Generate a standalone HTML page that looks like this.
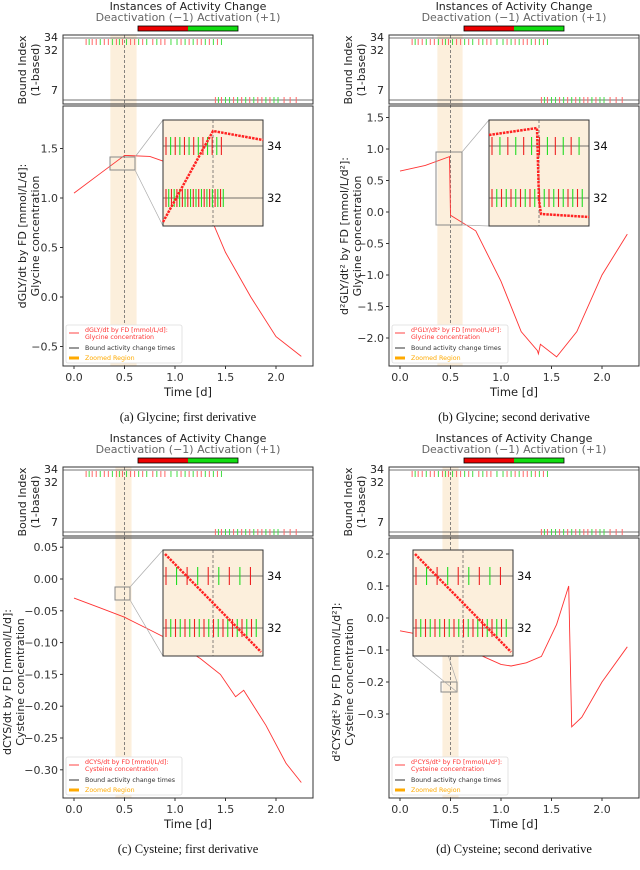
<!DOCTYPE html>
<html><head><meta charset="utf-8"><style>
body{margin:0;background:#fff;width:640px;height:865px;overflow:hidden}
svg{font-family:"DejaVu Sans","Liberation Sans",sans-serif}
.cap{font-family:"Liberation Serif",serif;font-size:12.5px}
</style></head><body>
<svg id="fig" width="640" height="865" viewBox="0 0 640 865"></svg>
<script>
// ---- data ----
const topEventTimes=[0.12,0.15,0.18,0.22,0.26,0.3,0.34,0.38,0.42,0.45,0.48,0.52,0.56,0.6,0.64,0.68,0.72,0.78,0.82,0.86,0.9,0.96,1.02,1.06,1.1,1.14,1.18,1.22,1.26,1.3,1.34,1.38,1.42,1.46];
const topEventSigns=[-1,1,-1,-1,1,-1,-1,1,-1,1,-1,1,-1,-1,1,-1,1,-1,1,-1,-1,1,1,-1,1,-1,1,-1,-1,1,-1,1,-1,1];
const botEventTimes=[1.4,1.43,1.46,1.5,1.54,1.58,1.62,1.66,1.7,1.74,1.78,1.82,1.86,1.9,1.94,1.98,2.02,2.08,2.14,2.2];
const botEventSigns=[-1,1,-1,1,1,-1,1,-1,1,-1,1,-1,-1,1,-1,1,1,-1,-1,-1];
const timeTicks=[0,0.5,1.0,1.5,2.0];
const tA=[0,0.25,0.5,0.75,1.0,1.25,1.5,1.75,2.0,2.25];
const vA=[1.05,1.24,1.43,1.42,1.33,1.05,0.45,0.0,-0.4,-0.6];
const tB=[0,0.25,0.49,0.5,0.75,1.0,1.2,1.36,1.37,1.39,1.55,1.75,2.0,2.25];
const vB=[0.65,0.74,0.88,-0.05,-0.3,-1.1,-1.9,-2.2,-2.25,-2.1,-2.3,-1.9,-1.0,-0.35];
const tC=[0,0.25,0.5,0.75,1.0,1.25,1.45,1.6,1.68,1.8,1.9,2.1,2.25];
const vC=[-0.03,-0.045,-0.06,-0.08,-0.10,-0.125,-0.15,-0.185,-0.175,-0.205,-0.23,-0.29,-0.32];
const tD=[0,0.25,0.5,0.75,1.0,1.1,1.25,1.4,1.55,1.67,1.7,1.8,2.0,2.25];
const vD=[-0.04,-0.055,-0.08,-0.11,-0.145,-0.15,-0.14,-0.12,-0.02,0.1,-0.34,-0.31,-0.2,-0.09];
const yTicksA=[-0.5,0.0,0.5,1.0,1.5], yLabA=["\u22120.5","0.0","0.5","1.0","1.5"];
const yTicksB=[-2.0,-1.5,-1.0,-0.5,0.0,0.5,1.0,1.5], yLabB=["\u22122.0","\u22121.5","\u22121.0","\u22120.5","0.0","0.5","1.0","1.5"];
const yTicksC=[-0.30,-0.25,-0.20,-0.15,-0.10,-0.05,0.00,0.05], yLabC=["\u22120.30","\u22120.25","\u22120.20","\u22120.15","\u22120.10","\u22120.05","0.00","0.05"];
const yTicksD=[-0.3,-0.2,-0.1,0.0,0.1,0.2], yLabD=["\u22120.3","\u22120.2","\u22120.1","0.0","0.1","0.2"];

const NS="http://www.w3.org/2000/svg";
const fig=document.getElementById('fig');
function el(tag,attrs,parent,txt){const e=document.createElementNS(NS,tag);for(const k in attrs)e.setAttribute(k,attrs[k]);if(txt!==undefined)e.textContent=txt;(parent||fig).appendChild(e);return e;}

function panel(p){
  const g=el('g',{transform:`translate(${p.dx},${p.dy})`});
  
  
  const L=63,R=313,T=106,B=366;
  const xs=t=>74+t*101;
  const ys=v=>p.y0-v*p.ys;
  // header
  let h=el('text',{x:188,y:10,'text-anchor':'middle','font-size':11,fill:'#222'},g,'Instances of Activity Change');
  
  el('text',{x:188,y:21,'text-anchor':'middle','font-size':11,fill:'#666'},g,'Deactivation (\u22121)   Activation (+1)');
  el('rect',{x:138,y:26,width:50,height:5,fill:'#e00'},g);
  el('rect',{x:188,y:26,width:50,height:5,fill:'#1d1'},g);
  el('rect',{x:138,y:26,width:100,height:5,fill:'none',stroke:'#000','stroke-width':0.8},g);
  // shade
  el('rect',{x:xs(p.sh[0]),y:35,width:xs(p.sh[1])-xs(p.sh[0]),height:B-35,fill:'#fcefdc'},g);
  el('line',{x1:xs(0.5),x2:xs(0.5),y1:35,y2:B,stroke:'#555','stroke-width':0.7,'stroke-dasharray':'3,2'},g);
  // strip
  const s=el('rect',{x:L,y:35,width:R-L,height:69,fill:'none',stroke:'#333','stroke-width':1},g);
  
  el('line',{x1:L,x2:R,y1:38,y2:38,stroke:'#444','stroke-width':0.8},g);
  el('line',{x1:L,x2:R,y1:100,y2:100,stroke:'#444','stroke-width':0.8},g);
  topEventTimes.forEach((t,i)=>{const m=el('line',{x1:xs(t),x2:xs(t),y1:39,y2:45,stroke:topEventSigns[i]<0?'#f66':'#4d4','stroke-width':1},g);
    });
  botEventTimes.forEach((t,i)=>{const m=el('line',{x1:xs(t),x2:xs(t),y1:97,y2:103,stroke:botEventSigns[i]<0?'#f66':'#4d4','stroke-width':1},g);
    });
  [['34',41],['32',54],['7',94]].forEach(a=>el('text',{x:58,y:a[1],'text-anchor':'end','font-size':11,fill:'#222'},g,a[0]));
  let bl=el('text',{transform:'translate(26,70) rotate(-90)','text-anchor':'middle','font-size':11,fill:'#222'},g,'Bound Index');
  
  el('text',{transform:'translate(39,70) rotate(-90)','text-anchor':'middle','font-size':11,fill:'#222'},g,'(1-based)');
  // main axes
  const ax=el('rect',{x:L,y:T,width:R-L,height:B-T,fill:'none',stroke:'#333','stroke-width':1},g);
  
  p.yt.forEach((v,i)=>{const y=ys(v);el('line',{x1:L-3,x2:L,y1:y,y2:y,stroke:'#333'},g);
    el('text',{x:L-5,y:y+4,'text-anchor':'end','font-size':11,fill:'#333'},g,p.yl[i]);});
  timeTicks.forEach(t=>{el('line',{x1:xs(t),x2:xs(t),y1:B,y2:B+3,stroke:'#333'},g);
    el('text',{x:xs(t),y:B+15,'text-anchor':'middle','font-size':11,fill:'#333'},g,t.toFixed(1));});
  let xl=el('text',{x:188,y:B+30,'text-anchor':'middle','font-size':11.5,fill:'#222'},g,'Time [d]');
  
  let yl=el('text',{transform:`translate(${p.lx},${p.ly}) rotate(-90)`,'text-anchor':'middle','font-size':11,fill:'#222'},g,p.ylab1);
  
  el('text',{transform:`translate(${p.lx+13},${p.ly}) rotate(-90)`,'text-anchor':'middle','font-size':11,fill:'#222'},g,p.ylab2);
  // curve
  const pts=p.t.map((t,i)=>xs(t).toFixed(1)+','+ys(p.v[i]).toFixed(1)).join(' ');
  const c=el('polyline',{points:pts,fill:'none',stroke:'#f33','stroke-width':0.9},g);
  
  // zoom rect & inset
  const z=p.zr;
  el('rect',{x:z[0],y:z[1],width:z[2],height:z[3],fill:'none',stroke:'#888','stroke-width':1},g);
  const I=p.ins;
  el('line',{x1:z[0]+z[2],y1:z[1],x2:I[0],y2:I[1],stroke:'#aaa','stroke-width':0.7},g);
  el('line',{x1:z[0]+z[2],y1:z[1]+z[3],x2:I[0],y2:I[1]+106,stroke:'#aaa','stroke-width':0.7},g);
  const ig=el('g',{},g);
  
  el('rect',{x:I[0],y:I[1],width:100,height:106,fill:'#fcefdc',stroke:'#333','stroke-width':1},ig);
  el('line',{x1:I[0]+p.idash,x2:I[0]+p.idash,y1:I[1],y2:I[1]+106,stroke:'#555','stroke-width':0.7,'stroke-dasharray':'3,2'},ig);
  [[26,'34',p.n34],[78,'32',p.n32]].forEach(r=>{const y=I[1]+r[0];
    el('line',{x1:I[0],x2:I[0]+100,y1:y,y2:y,stroke:'#444','stroke-width':0.8},ig);
    el('text',{x:I[0]+104,y:y+4,'font-size':11.5,fill:'#111'},ig,r[1]);
    for(let k=0;k<r[2];k++){const x=I[0]+3+k*(p.ispan/r[2]);
      el('line',{x1:x,x2:x,y1:y-9,y2:y+9,stroke:k%2?'#2d2':'#e22','stroke-width':1.1},ig);}
  });
  el('polyline',{points:p.ipath.map(q=>(I[0]+q[0])+','+(I[1]+q[1])).join(' '),fill:'none',stroke:'#f22','stroke-width':2.5,'stroke-dasharray':'2.5,1'},ig);
  // legend
  const lg=el('g',{},g);
  
  el('rect',{x:L+3,y:B-41,width:116,height:38,fill:'#fff',stroke:'#ddd','stroke-width':0.8,rx:2},lg);
  el('line',{x1:L+6,x2:L+16,y1:B-33,y2:B-33,stroke:'#f44'},lg);
  el('text',{x:L+22,y:B-34,'font-size':6.3,fill:'#f33'},lg,p.leg);
  el('text',{x:L+22,y:B-27,'font-size':6.3,fill:'#f33'},lg,p.leg2);
  el('line',{x1:L+6,x2:L+16,y1:B-18,y2:B-18,stroke:'#333'},lg);
  el('text',{x:L+22,y:B-16,'font-size':6.3,fill:'#333'},lg,'Bound activity change times');
  el('line',{x1:L+6,x2:L+16,y1:B-8,y2:B-8,stroke:'#fa0','stroke-width':3},lg);
  el('text',{x:L+22,y:B-6,'font-size':6.3,fill:'#fa0'},lg,'Zoomed Region');
  // caption
  const cp=el('text',{x:188,y:B+55,'text-anchor':'middle',class:'cap',fill:'#111'},g,p.cap);
  
}

panel({name:'panel-a',dx:0,dy:0,y0:297,ys:99,yt:yTicksA,yl:yLabA,lx:26,ly:236,
  t:tA,v:vA,sh:[0.36,0.62],zr:[110,157,25,13],ins:[163,120],idash:50,n34:13,n32:22,ispan:60,
  ipath:[[0,102],[50,11],[100,20]],ylab1:'dGLY/dt by FD [mmol/L/d]:',ylab2:'Glycine concentration',
  leg:'dGLY/dt by FD [mmol/L/d]:',leg2:'Glycine concentration',cap:'(a) Glycine; first derivative'});
panel({name:'panel-b',dx:326,dy:0,y0:212,ys:63,yt:yTicksB,yl:yLabB,lx:22,ly:236,
  t:tB,v:vB,sh:[0.37,0.62],zr:[110,152,26,73],ins:[163,120],idash:50,n34:12,n32:20,ispan:95,
  ipath:[[0,15],[48,8],[50,80],[52,94],[100,97]],ylab1:'d\u00b2GLY/dt\u00b2 by FD [mmol/L/d\u00b2]:',ylab2:'Glycine concentration',
  leg:'d\u00b2GLY/dt\u00b2 by FD [mmol/L/d\u00b2]:',leg2:'Glycine concentration',cap:'(b) Glycine; second derivative'});
panel({name:'panel-c',dx:0,dy:432,y0:147,ys:636,yt:yTicksC,yl:yLabC,lx:11,ly:250,
  t:tC,v:vC,sh:[0.41,0.57],zr:[115,155,15,13],ins:[163,118],idash:50,n34:9,n32:20,ispan:95,
  ipath:[[2,4],[98,102]],ylab1:'dCYS/dt by FD [mmol/L/d]:',ylab2:'Cysteine concentration',
  leg:'dCYS/dt by FD [mmol/L/d]:',leg2:'Cysteine concentration',cap:'(c) Cysteine; first derivative'});
panel({name:'panel-d',dx:326,dy:432,y0:186,ys:320,yt:yTicksD,yl:yLabD,lx:14,ly:250,
  t:tD,v:vD,sh:[0.42,0.58],zr:[115,250,16,10],ins:[87,118],idash:50,n34:9,n32:20,ispan:95,
  ipath:[[2,4],[98,102]],ylab1:'d\u00b2CYS/dt\u00b2 by FD [mmol/L/d\u00b2]:',ylab2:'Cysteine concentration',
  leg:'d\u00b2CYS/dt\u00b2 by FD [mmol/L/d\u00b2]:',leg2:'Cysteine concentration',cap:'(d) Cysteine; second derivative'});
</script>
</body></html>
